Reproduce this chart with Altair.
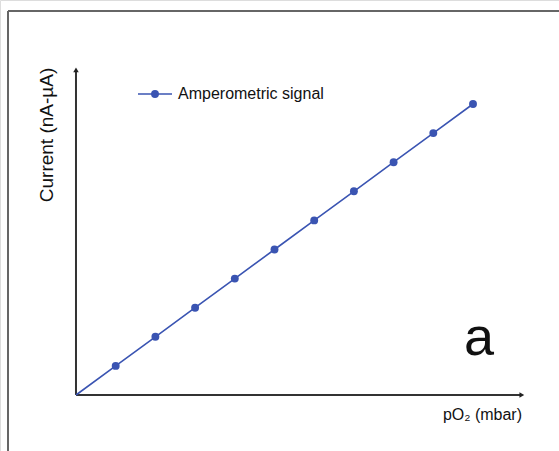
import altair as alt
import pandas as pd

# Data
po2 = [0, 1, 2, 3, 4, 5, 6, 7, 8, 9, 10]
current = [0, 1, 2, 3, 4, 5, 6, 7, 8, 9, 10]
series_name = "Amperometric signal"
x_title = "pO\u2082 (mbar)"
y_title = "Current (nA-\u00b5A)"
panel_label = "a"

# axis extents (data units)
x_axis_end = 11.23
y_axis_end = 11.17

W, H = 559, 451
BLUE = "#3a54b2"

df = pd.DataFrame({"x": po2, "y": current, "s": series_name})

xs = alt.Scale(domain=[-1.914, 12.166], nice=False, zero=False)
ys = alt.Scale(domain=[-1.924, 13.574], nice=False, zero=False)
X = lambda f: alt.X(f, type="quantitative", scale=xs, axis=None)
Y = lambda f: alt.Y(f, type="quantitative", scale=ys, axis=None)

base = alt.Chart(df)

line = base.mark_line(color=BLUE, strokeWidth=1.6).encode(x=X("x"), y=Y("y"))
pts = base.transform_filter("datum.x > 0").mark_circle(color=BLUE, size=62, opacity=1).encode(x=X("x"), y=Y("y"))

axes_df = pd.DataFrame({"x1": [0, 0], "y1": [0, 0], "x2": [x_axis_end, 0], "y2": [0, y_axis_end]})
axes = alt.Chart(axes_df).mark_rule(color="#333333", strokeWidth=2).encode(
    x=X("x1"), y=Y("y1"), x2="x2", y2="y2")

arrow_x = alt.Chart(pd.DataFrame({"x": [x_axis_end], "y": [0]})).mark_point(
    shape="triangle-right", filled=True, color="#222222", size=30, opacity=1).encode(x=X("x"), y=Y("y"))
arrow_y = alt.Chart(pd.DataFrame({"x": [0], "y": [y_axis_end]})).mark_point(
    shape="triangle-up", filled=True, color="#222222", size=30, opacity=1).encode(x=X("x"), y=Y("y"))

one = alt.Chart(pd.DataFrame({"d": [0]}))

frame_top = one.mark_rule(color="#666666", strokeWidth=2).encode(
    x=alt.value(8), x2=alt.value(W), y=alt.value(11))
frame_left = one.mark_rule(color="#666666", strokeWidth=2).encode(
    x=alt.value(8), y=alt.value(11), y2=alt.value(H))

leg_line = one.mark_rule(color=BLUE, strokeWidth=1.6).encode(
    x=alt.value(138), x2=alt.value(172), y=alt.value(94))
leg_pt = one.mark_circle(color=BLUE, size=62, opacity=1).encode(
    x=alt.value(155), y=alt.value(94))
leg_txt = one.mark_text(text=series_name, align="left", baseline="middle",
                        font="Liberation Sans", fontSize=16, color="#111111").encode(
    x=alt.value(178), y=alt.value(94))

ytitle = one.mark_text(text=y_title, angle=270, align="center", baseline="middle",
                       font="Liberation Sans", fontSize=19, color="#111111").encode(
    x=alt.value(47), y=alt.value(135))
xtitle = one.mark_text(text=x_title, align="right", baseline="middle",
                       font="Liberation Sans", fontSize=16, color="#111111").encode(
    x=alt.value(522), y=alt.value(415))
letter = one.mark_text(text=panel_label, align="center", baseline="middle",
                       font="Liberation Sans", fontSize=54, color="#111111").encode(
    x=alt.value(479), y=alt.value(339))

chart = alt.layer(
    frame_top, frame_left, axes, arrow_x, arrow_y, line, pts,
    leg_line, leg_pt, leg_txt, ytitle, xtitle, letter
).properties(
    width=W, height=H, padding=0, autosize=alt.AutoSizeParams(type="none")
).configure_view(stroke=None).configure(background="white")

chart.save("out.html", embed_options={"renderer": "svg", "actions": False})
